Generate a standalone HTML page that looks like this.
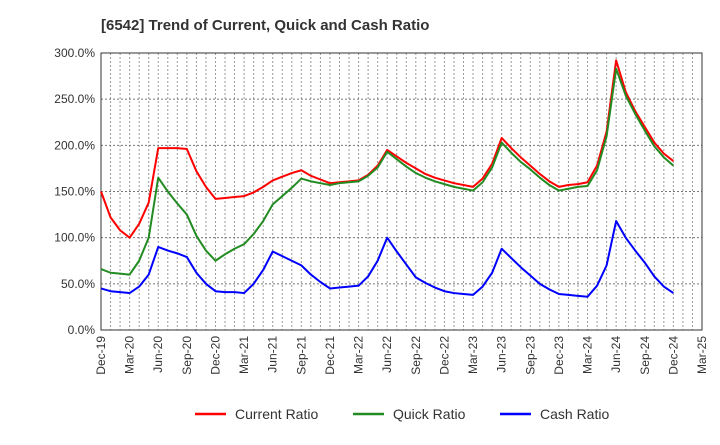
<!DOCTYPE html>
<html><head><meta charset="utf-8"><style>
body{margin:0;background:#fff;font-family:"Liberation Sans",sans-serif}
</style></head><body>
<svg width="720" height="440" xmlns="http://www.w3.org/2000/svg">
<text x="101" y="30" font-size="15" font-weight="bold" fill="#333">[6542]  Trend of Current, Quick and Cash Ratio</text>
<g id="grid"></g>
<g id="axes"></g>
<g id="series"></g>
<g id="legend"></g>
</svg>
<script>
const xLabels=["Dec-19","Mar-20","Jun-20","Sep-20","Dec-20","Mar-21","Jun-21","Sep-21","Dec-21","Mar-22","Jun-22","Sep-22","Dec-22","Mar-23","Jun-23","Sep-23","Dec-23","Mar-24","Jun-24","Sep-24","Dec-24","Mar-25"];
const yTicks=[0,50,100,150,200,250,300];
const currentRatio=[150,122,108,100,115,138,197,197,197,196,172,155,142,143,144,145,149,155,162,166,170,173,167,163,159,160,161,162,168,178,195,188,181,175,169,165,162,159,157,155,164,180,208,197,187,178,169,161,155,157,158,160,178,215,292,258,237,220,203,191,183];
const quickRatio=[66,62,61,60,75,100,165,150,137,125,102,86,75,82,88,93,104,118,136,145,154,164,161,159,157,159,160,161,167,176,193,185,177,170,165,161,158,155,153,151,160,176,203,192,182,174,165,157,151,153,155,156,173,210,283,254,234,216,199,187,178];
const cashRatio=[45,42,41,40,47,60,90,86,83,79,62,50,42,41,41,40,50,65,85,80,75,70,60,52,45,46,47,48,58,75,100,85,71,57,51,46,42,40,39,38,47,62,88,78,68,59,50,44,39,38,37,36,48,70,118,100,86,73,58,47,40];
const L=101,R=702,T=53,B=330,months=63;
const xs=i=>L+(R-L)*i/months;
const ys=v=>B-(B-T)*v/300;
const NS="http://www.w3.org/2000/svg";
function mk(p,tag,attrs){const e=document.createElementNS(NS,tag);for(const k in attrs)e.setAttribute(k,attrs[k]);p.appendChild(e);return e;}
const grid=document.getElementById('grid'),axes=document.getElementById('axes'),ser=document.getElementById('series'),leg=document.getElementById('legend');
for(let m=1;m<months;m++){const l=mk(grid,'line',{x1:xs(m),x2:xs(m),y1:T,y2:B,stroke:'#999','stroke-dasharray':'2,2','stroke-width':1});

}
yTicks.forEach(v=>{if(v>0&&v<300){const l=mk(grid,'line',{x1:L,x2:R,y1:ys(v),y2:ys(v),stroke:'#777','stroke-dasharray':'2,2','stroke-width':1});

}
const t=mk(axes,'text',{x:L-6,y:ys(v)+4,'text-anchor':'end','font-size':12,fill:'#333'});t.textContent=v.toFixed(1)+'%';

});
const fr=mk(axes,'rect',{x:L,y:T,width:R-L,height:B-T,fill:'none',stroke:'#333','stroke-width':1});


xLabels.forEach((s,i)=>{const x=xs(i*3);const t=mk(axes,'text',{x:0,y:0,'text-anchor':'end','font-size':12,fill:'#333',transform:`translate(${x+4},${B+6}) rotate(-90)`});t.textContent=s;

});
const series=[["current-ratio-line",currentRatio,"#ff0000"],["quick-ratio-line",quickRatio,"#228b22"],["cash-ratio-line",cashRatio,"#0000ff"]];
series.forEach(([n,d,c])=>{const p=mk(ser,'polyline',{points:d.map((v,i)=>xs(i)+','+ys(v)).join(' '),fill:'none',stroke:c,'stroke-width':2,'stroke-linejoin':'round'});

});
const legItems=[["Current Ratio","#ff0000",195],["Quick Ratio","#228b22",353],["Cash Ratio","#0000ff",500]];
legItems.forEach(([n,c,x])=>{const l=mk(leg,'line',{x1:x,x2:x+31,y1:414,y2:414,stroke:c,'stroke-width':2.5});


const t=mk(leg,'text',{x:x+40,y:419,'font-size':14,fill:'#333'});t.textContent=n;

});
</script>
</body></html>
